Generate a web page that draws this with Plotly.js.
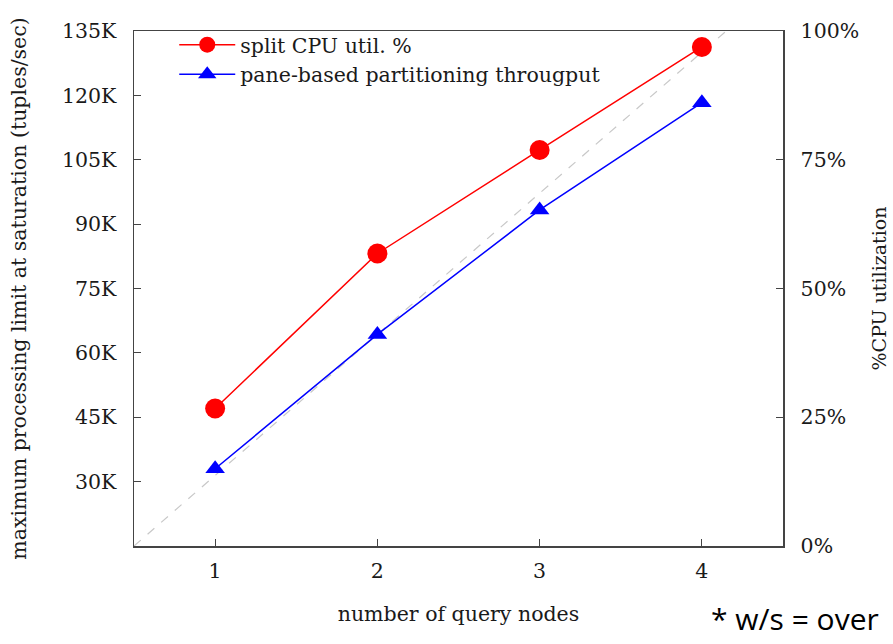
<!DOCTYPE html>
<html>
<head>
<meta charset="utf-8">
<script src="https://cdn.plot.ly/plotly-3.0.1.min.js"></script>
<style>html,body{margin:0;padding:0;background:#fff;overflow:hidden}#chart{width:893px;height:644px}</style>
</head>
<body>
<div id="chart"></div>
<script>
// ---- data ----
const queryNodes = [1, 2, 3, 4];
const cpuUtilPct = [26.7, 56.8, 76.9, 96.9];           // right axis (%)
const paneThroughput = [33000, 64300, 93300, 118300];  // left axis (tuples/sec)
const idealX = [0.5, 4.15];
const idealY = [15000, 135000];
const leftTickVals = [30000, 45000, 60000, 75000, 90000, 105000, 120000, 135000];
const leftTickText = ['30K', '45K', '60K', '75K', '90K', '105K', '120K', '135K'];
const rightTickVals = [0, 25, 50, 75, 100];
const rightTickText = ['0%', '25%', '50%', '75%', '100%'];
const seriesNames = ['split CPU util. %', 'pane-based partitioning througput'];
const footnote = '* w/s = over';

const serif = 'DejaVu Serif, Liberation Serif, serif';
const ink = '#1a1a1a';
const frame = '#444444';
const fs = 20.5;

const traces = [
  {
    x: idealX, y: idealY, mode: 'lines', yaxis: 'y', showlegend: false, hoverinfo: 'skip',
    line: {color: '#c8c8c8', width: 1.2, dash: 'dash'}
  },
  {
    x: queryNodes, y: cpuUtilPct, name: seriesNames[0], yaxis: 'y2', mode: 'lines+markers',
    line: {color: '#ff0000', width: 1.5},
    marker: {symbol: 'circle', size: 20, color: '#ff0000'}
  },
  {
    x: queryNodes, y: paneThroughput, name: seriesNames[1], yaxis: 'y', mode: 'lines+markers',
    line: {color: '#0000ff', width: 1.5},
    marker: {symbol: 'triangle-up', size: 17, color: '#0000ff'}
  }
];

const layout = {
  width: 893, height: 644,
  margin: {l: 134, r: 110, t: 31, b: 98},
  paper_bgcolor: '#ffffff', plot_bgcolor: '#ffffff',
  font: {family: serif, color: ink, size: fs},
  showlegend: true,
  legend: {
    x: 0.062, y: 1.012, xanchor: 'left', yanchor: 'top',
    bgcolor: 'rgba(0,0,0,0)', borderwidth: 0,
    itemwidth: 56,
    font: {family: serif, size: fs, color: ink},
    traceorder: 'normal', tracegroupgap: 0
  },
  xaxis: {
    range: [0.5, 4.5], tickvals: queryNodes, ticktext: queryNodes.map(String),
    showgrid: false, zeroline: false,
    showline: true, linecolor: frame, linewidth: 1.5, mirror: true,
    ticks: 'inside', ticklen: 7, tickwidth: 1.2, tickcolor: frame,
    ticklabelstandoff: 6,
    tickfont: {family: serif, size: fs, color: ink},
    title: {text: 'number of query nodes', font: {family: serif, size: fs, color: ink}, standoff: 24}
  },
  yaxis: {
    range: [15000, 135000], tickvals: leftTickVals, ticktext: leftTickText,
    showgrid: false, zeroline: false,
    showline: true, linecolor: frame, linewidth: 1.5,
    ticks: 'inside', ticklen: 7, tickwidth: 1.2, tickcolor: frame,
    ticklabelstandoff: 12,
    tickfont: {family: serif, size: fs, color: ink},
    title: {text: 'maximum processing limit at saturation (tuples/sec)', font: {family: serif, size: fs, color: ink}, standoff: 30}
  },
  yaxis2: {
    range: [0, 100], tickvals: rightTickVals, ticktext: rightTickText,
    overlaying: 'y', side: 'right',
    showgrid: false, zeroline: false,
    showline: true, linecolor: frame, linewidth: 1.5,
    ticks: 'inside', ticklen: 7, tickwidth: 1.2, tickcolor: frame,
    ticklabelstandoff: 12,
    tickfont: {family: serif, size: fs, color: ink},
    title: {text: '%CPU utilization', font: {family: serif, size: 19, color: ink}, standoff: 14}
  },
  annotations: [
    {
      text: footnote, xref: 'paper', yref: 'paper', x: 0.886, y: -0.098,
      xanchor: 'left', yanchor: 'top', showarrow: false,
      font: {family: 'Open Sans, Noto Sans, sans-serif', size: 30, color: '#000000'}
    }
  ]
};

Plotly.newPlot('chart', traces, layout, {displayModeBar: false, staticPlot: true});
</script>
</body>
</html>
